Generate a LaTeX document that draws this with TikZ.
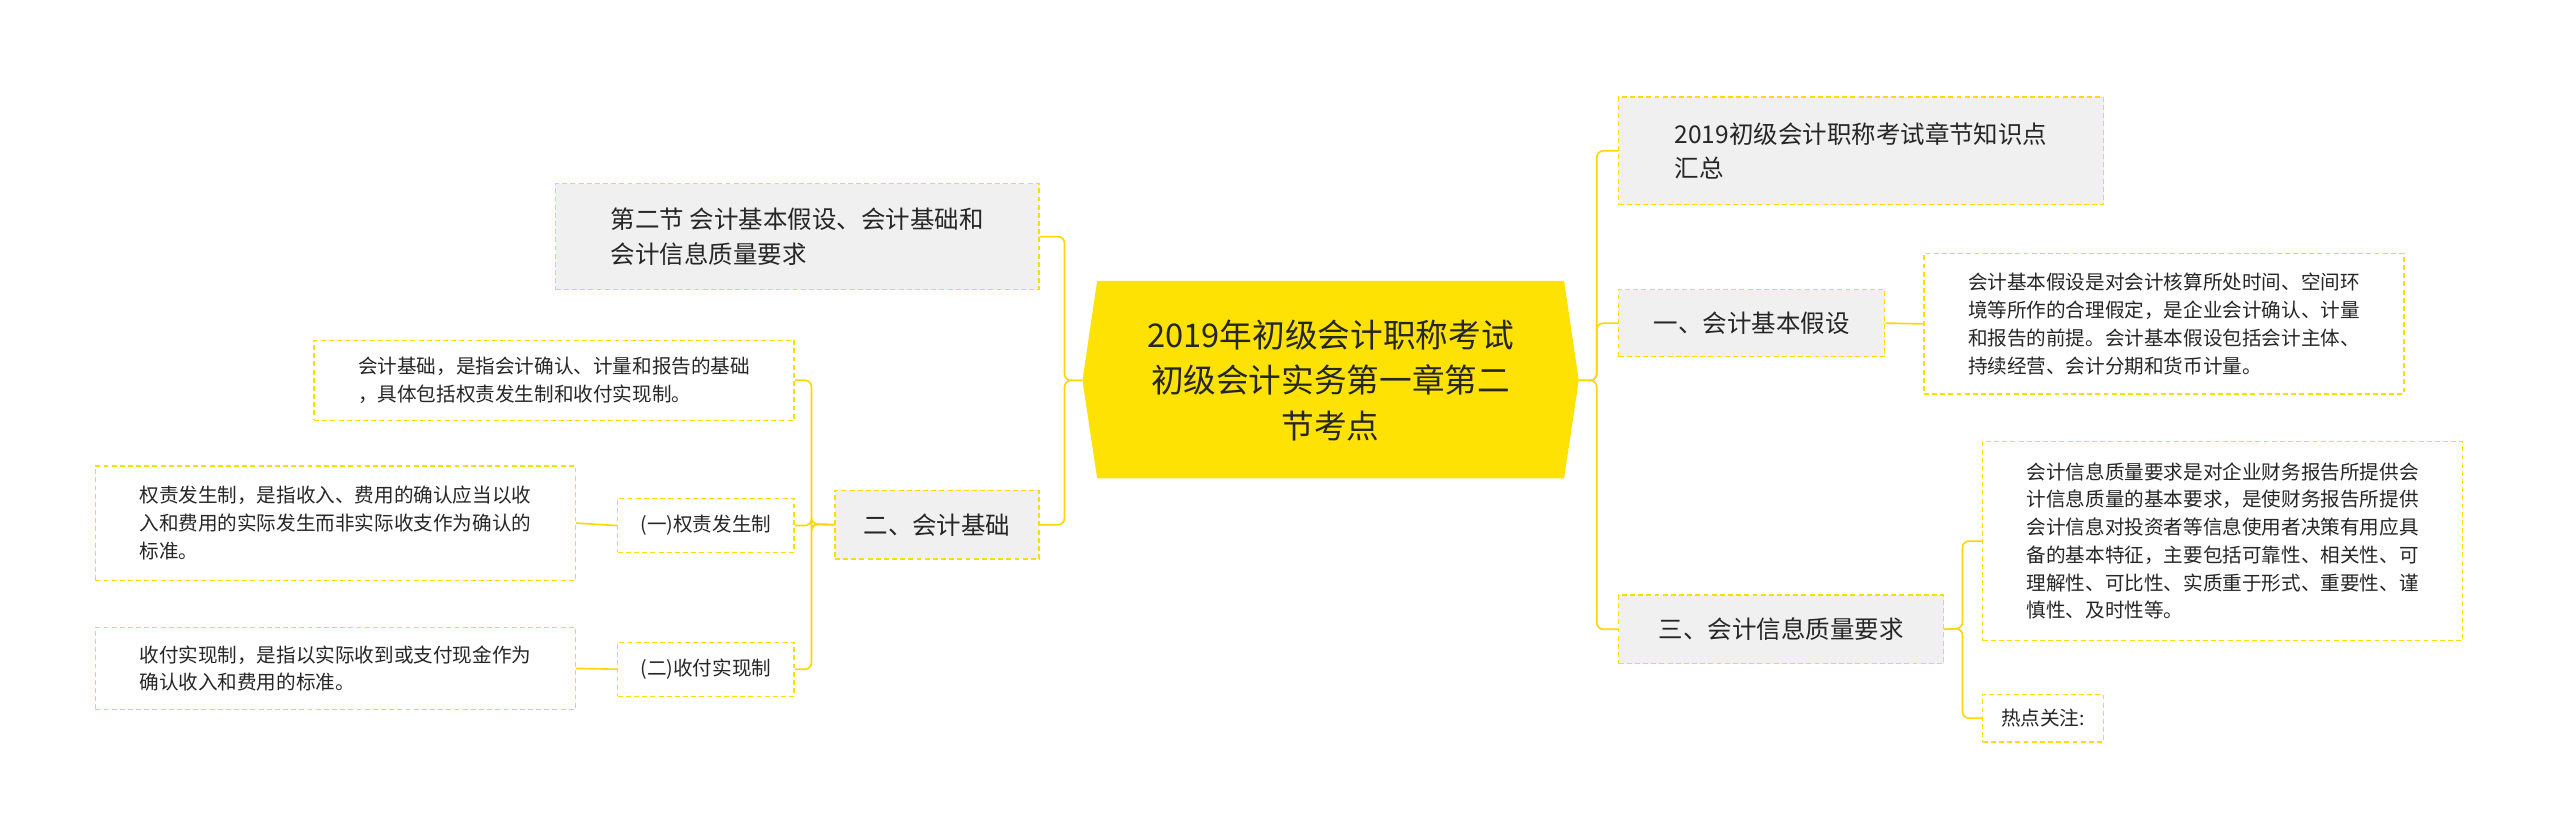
\documentclass[tikz,border=0pt]{standalone}
\usepackage{fontspec}
\setmainfont{Noto Sans CJK SC}
\begin{document}
\begin{tikzpicture}[x=1pt,y=-1pt,
  box/.style={draw=yellow!80!orange, dashed, dash pattern=on 3pt off 2pt, line width=0.8pt, anchor=north west, inner xsep=7pt, align=left, text=black!85},
  grey/.style={box, fill=gray!12, font=\fontsize{15}{21}\selectfont},
  grey2/.style={box, fill=gray!12, font=\fontsize{15}{21}\selectfont},
  small/.style={box, fill=white, font=\fontsize{12}{17}\selectfont},
  link/.style={draw=yellow!75!orange, line width=1pt, rounded corners=4pt}]
\useasboundingbox (0,0) rectangle (1568,514);
\fill[yellow!85!orange] (663,233) -- (672,172) -- (958,172) -- (967,233) -- (958,293) -- (672,293) -- cycle;
\node[align=center, font=\fontsize{20}{28}\selectfont, text=black!85] (c) at (815,233) {2019年初级会计职称考试\\初级会计实务第一章第二\\节考点};
\coordinate (cw) at (663,233); \coordinate (ce) at (967,233);
% left
\node[grey, minimum width=296pt, minimum height=65pt] (l1) at (340,112) {第二节 会计基本假设、会计基础和\\会计信息质量要求};
\node[grey2, minimum width=125pt, minimum height=42pt] (l2) at (511,300) {二、会计基础};
\node[small, minimum width=294pt, minimum height=49pt] (l3) at (192,208) {会计基础，是指会计确认、计量和报告的基础\\，具体包括权责发生制和收付实现制。};
\node[small, minimum width=108pt, minimum height=33pt] (q1) at (378,305) {(一)权责发生制};
\node[small, minimum width=108pt, minimum height=33pt] (q2) at (378,393) {(二)收付实现制};
\node[small, minimum width=294pt, minimum height=70pt] (t1) at (58,285) {权责发生制，是指收入、费用的确认应当以收\\入和费用的实际发生而非实际收支作为确认的\\标准。};
\node[small, minimum width=294pt, minimum height=50pt] (t2) at (58,384) {收付实现制，是指以实际收到或支付现金作为\\确认收入和费用的标准。};
% right
\node[grey, minimum width=297pt, minimum height=66pt] (r0) at (991,59) {2019初级会计职称考试章节知识点\\汇总};
\node[grey2, minimum width=163pt, minimum height=41pt] (r1) at (991,177) {一、会计基本假设};
\node[small, minimum width=294pt, minimum height=86pt] (r1t) at (1178,155) {会计基本假设是对会计核算所处时间、空间环\\境等所作的合理假定，是企业会计确认、计量\\和报告的前提。会计基本假设包括会计主体、\\持续经营、会计分期和货币计量。};
\node[grey2, minimum width=199pt, minimum height=42pt] (r3) at (991,364) {三、会计信息质量要求};
\node[small, minimum width=294pt, minimum height=122pt] (r3t) at (1214,270) {会计信息质量要求是对企业财务报告所提供会\\计信息质量的基本要求，是使财务报告所提供\\会计信息对投资者等信息使用者决策有用应具\\备的基本特征，主要包括可靠性、相关性、可\\理解性、可比性、实质重于形式、重要性、谨\\慎性、及时性等。};
\node[small, minimum width=74pt, minimum height=29pt] (r3h) at (1214,425) {热点关注:};
% links
\draw[link] (cw) -- (652,233) |- (l1.east);
\draw[link] (cw) -- (652,233) |- (l2.east);
\draw[link] (ce) -- (978,233) |- (r0.west);
\draw[link] (ce) -- (978,233) |- (r1.west);
\draw[link] (ce) -- (978,233) |- (r3.west);
\draw[link] (l2.west) -- (497,321) |- (l3.east);
\draw[link] (l2.west) -- (497,321) |- (q1.east);
\draw[link] (l2.west) -- (497,321) |- (q2.east);
\draw[link] (q1.west) -- (t1.east);
\draw[link] (q2.west) -- (t2.east);
\draw[link] (r1.east) -- (r1t.west);
\draw[link] (r3.east) -- (1202,385) |- (r3t.west);
\draw[link] (r3.east) -- (1202,385) |- (r3h.west);
\end{tikzpicture}
\end{document}
